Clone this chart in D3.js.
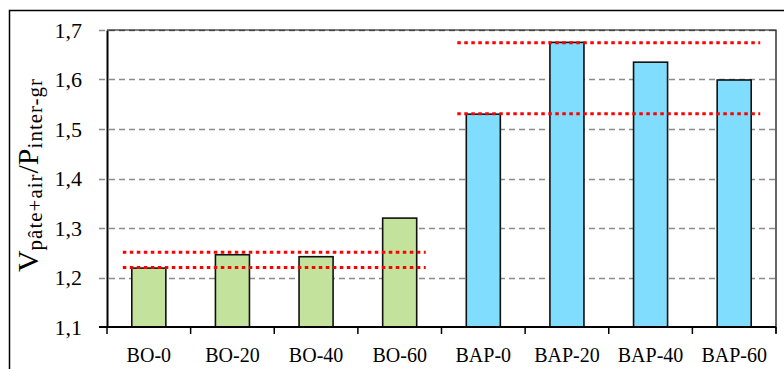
<!DOCTYPE html>
<html>
<head>
<meta charset="utf-8">
<script src="https://cdn.jsdelivr.net/npm/d3@7"></script>
<style>
    body { margin: 0; background: #fff; }
    svg { display: block; }
</style>
</head>
<body>
<svg id="chart"></svg>
<script>
(function () {

    // data
    var categories = ["BO-0", "BO-20", "BO-40", "BO-60", "BAP-0", "BAP-20", "BAP-40", "BAP-60"];
    var values = [1.219, 1.246, 1.242, 1.320, 1.530, 1.675, 1.635, 1.599];
    var groups = ["BO", "BO", "BO", "BO", "BAP", "BAP", "BAP", "BAP"];
    var yTicks = [1.1, 1.2, 1.3, 1.4, 1.5, 1.6, 1.7];
    // red dotted limits: value, first and last category covered
    var limitValues = [1.251, 1.220, 1.674, 1.531];
    var limitFrom = ["BO-0", "BO-0", "BAP-0", "BAP-0"];
    var limitTo = ["BO-60", "BO-60", "BAP-60", "BAP-60"];

    var width = 784;
    var height = 369;
    var plotLeft = 107;
    var plotRight = 776;
    var plotTop = 30;
    var plotBottom = 327;
    var fontFamily = "'Liberation Serif', 'DejaVu Serif', serif";
    var fill = { BO: "#c3e29b", BAP: "#80ddfd" };

    var svg = d3.select("#chart")
        .attr("width", width)
        .attr("height", height);

    var x = d3.scaleBand()
        .domain(categories)
        .range([plotLeft, plotRight])
        .paddingInner(0.593)
        .paddingOuter(0.2965);
    var y = d3.scaleLinear()
        .domain([1.1, 1.7])
        .range([plotBottom, plotTop]);

    // outer frame
    svg.append("rect")
        .attr("x", 9.5)
        .attr("y", 10.5)
        .attr("width", width)
        .attr("height", height)
        .attr("fill", "none")
        .attr("stroke", "#000")
        .attr("stroke-width", 1.5);

    // grid lines
    svg.append("g")
        .selectAll("line")
        .data(yTicks.slice(1))
        .enter()
        .append("line")
        .attr("x1", plotLeft - 8)
        .attr("x2", plotRight)
        .attr("y1", d => Math.round(y(d)) + 0.5)
        .attr("y2", d => Math.round(y(d)) + 0.5)
        .attr("stroke", "#8c8c8c")
        .attr("stroke-width", 1.5)
        .attr("stroke-dasharray", "6,4");

    // plot frame top and right
    svg.append("path")
        .attr("d", "M" + plotLeft + "," + plotTop + "H" + plotRight + "V" + (plotBottom + 6))
        .attr("fill", "none")
        .attr("stroke", "#000")
        .attr("stroke-width", 1.2);

    // bars
    svg.append("g")
        .selectAll("rect")
        .data(values)
        .enter()
        .append("rect")
        .attr("x", (d, i) => x(categories[i]))
        .attr("y", d => y(d))
        .attr("width", x.bandwidth())
        .attr("height", d => plotBottom - y(d))
        .attr("fill", (d, i) => fill[groups[i]])
        .attr("stroke", "#111")
        .attr("stroke-width", 1.6);

    // red dotted limits
    svg.append("g")
        .selectAll("line")
        .data(limitValues)
        .enter()
        .append("line")
        .attr("x1", (d, i) => x(limitFrom[i]) - 9)
        .attr("x2", (d, i) => x(limitTo[i]) + x.bandwidth() + 9)
        .attr("y1", d => y(d))
        .attr("y2", d => y(d))
        .attr("stroke", "#ff0000")
        .attr("stroke-width", 3)
        .attr("stroke-dasharray", "3.5,3.5");

    // y axis
    var yAxis = d3.axisLeft(y)
        .tickValues(yTicks)
        .tickSize(0)
        .tickPadding(25)
        .tickFormat(d => d3.format(".1f")(d).replace(".", ","));
    var yAxisG = svg.append("g")
        .attr("transform", "translate(" + plotLeft + ",0)")
        .call(yAxis);
    yAxisG.select(".domain")
        .attr("stroke", "#000")
        .attr("stroke-width", 2);
    yAxisG.selectAll("text")
        .attr("font-family", fontFamily)
        .attr("font-size", "22px")
        .attr("fill", "#000");
    svg.append("line")
        .attr("x1", plotLeft - 8)
        .attr("x2", plotLeft)
        .attr("y1", plotBottom)
        .attr("y2", plotBottom)
        .attr("stroke", "#000")
        .attr("stroke-width", 2);

    // x axis
    var xAxisG = svg.append("g")
        .attr("transform", "translate(0," + plotBottom + ")")
        .call(d3.axisBottom(x).tickSize(0).tickPadding(21));
    xAxisG.select(".domain")
        .attr("d", "M" + plotLeft + ",0H" + plotRight)
        .attr("stroke", "#000")
        .attr("stroke-width", 2);
    xAxisG.selectAll("text")
        .attr("font-family", fontFamily)
        .attr("font-size", "20px")
        .attr("fill", "#000");
    xAxisG.selectAll("line.sep")
        .data(d3.range(categories.length + 1))
        .enter()
        .append("line")
        .attr("class", "sep")
        .attr("x1", i => plotLeft + i * x.step())
        .attr("x2", i => plotLeft + i * x.step())
        .attr("y1", 0)
        .attr("y2", 7)
        .attr("stroke", "#000")
        .attr("stroke-width", 1.5);

    // y axis title
    var title = svg.append("text")
        .attr("transform", "translate(38,175) rotate(-90)")
        .attr("text-anchor", "middle")
        .attr("font-family", fontFamily)
        .attr("font-size", "30px")
        .attr("fill", "#000");
    title.append("tspan").text("V");
    title.append("tspan")
        .attr("font-size", "21px")
        .attr("dy", 4)
        .attr("letter-spacing", 1)
        .text("pâte+air");
    title.append("tspan").attr("dy", -4).text("/P");
    title.append("tspan")
        .attr("font-size", "21px")
        .attr("dy", 4)
        .attr("letter-spacing", 1)
        .text("inter-gr");

})();
</script>
</body>
</html>
